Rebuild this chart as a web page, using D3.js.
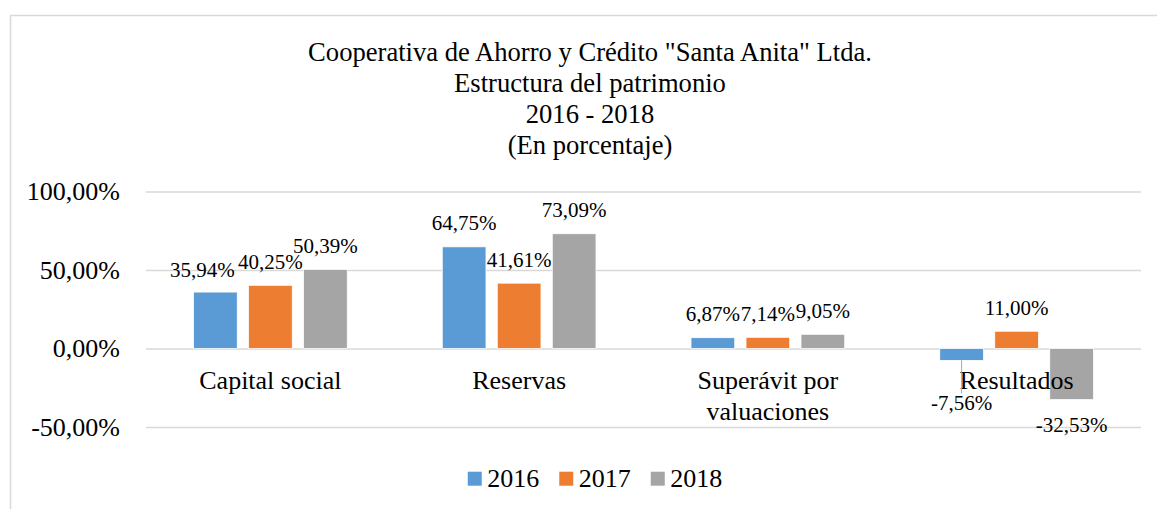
<!DOCTYPE html>
<html>
<head>
<meta charset="utf-8">
<script src="https://cdn.jsdelivr.net/npm/d3@7"></script>
<style>
  body { margin: 0; background: #fff; }
  text { font-family: "Liberation Serif", "Times New Roman", serif; fill: #000; }
</style>
</head>
<body>
<svg id="chart" width="1157" height="509"></svg>
<script>
var titleLines = ['Cooperativa de Ahorro y Crédito "Santa Anita" Ltda.', 'Estructura del patrimonio', '2016 - 2018', '(En porcentaje)'];
var categories = [['Capital social'], ['Reservas'], ['Superávit por', 'valuaciones'], ['Resultados']];
var years = ['2016', '2017', '2018'];
var values2016 = [35.94, 64.75, 6.87, -7.56];
var values2017 = [40.25, 41.61, 7.14, 11.00];
var values2018 = [50.39, 73.09, 9.05, -32.53];
var yTicks = [-50, 0, 50, 100];

var colors = ['#5B9BD5', '#ED7D31', '#A5A5A5'];
var series = [values2016, values2017, values2018];

// labels that were dragged by hand in the original
var labelNudge = {
  '0-0': { dx: -13, dy: 1 },
  '0-3': { dx: 0, dy: 18, leader: true }
};

var svg = d3.select('#chart');
var plot = { left: 146, right: 1141, top: 191.5, bottom: 427 };

var loc = d3.formatLocale({ decimal: ',', thousands: '.', grouping: [3], currency: ['', ''], minus: '-' });
var fmt = loc.format(',.2f');
var pct = function(v) { return fmt(v) + '%'; };

// chart border
svg.append('rect')
  .attr('x', 10.5).attr('y', 15.5)
  .attr('width', 1200).attr('height', 600)
  .attr('fill', 'none').attr('stroke', '#d9d9d9').attr('stroke-width', 1.5);

// title
svg.append('g').selectAll('text')
  .data(titleLines)
  .enter().append('text')
  .attr('x', 590)
  .attr('y', function(d, i) { return 61 + i * 31; })
  .attr('text-anchor', 'middle')
  .style('font-size', '26.6px')
  .text(function(d) { return d; });

var x = d3.scaleBand()
  .domain(d3.range(categories.length))
  .range([plot.left, plot.right]);
var y = d3.scaleLinear()
  .domain([-50, 100])
  .range([plot.bottom, plot.top]);

var bw = x.bandwidth();
var barW = bw * 0.1757;
var step = bw * 0.2211;
var barX = function(ci, si) { return x(ci) + bw / 2 + (si - 1) * step; };

// gridlines
svg.append('g')
  .attr('transform', 'translate(' + plot.left + ',0)')
  .call(d3.axisLeft(y).tickValues(yTicks).tickSize(-(plot.right - plot.left)).tickFormat(''))
  .call(function(g) { g.select('.domain').remove(); })
  .selectAll('line').attr('stroke', '#d9d9d9').attr('stroke-width', 1.5);

// y axis labels
svg.append('g')
  .attr('transform', 'translate(' + plot.left + ',0)')
  .call(d3.axisLeft(y).tickValues(yTicks).tickSize(0).tickPadding(26).tickFormat(pct))
  .call(function(g) {
    g.select('.domain').remove();
    g.selectAll('text').attr('fill', '#000').style('font-size', '26px')
      .style('font-family', '"Liberation Serif", "Times New Roman", serif');
  });

// bars
var flat = [];
series.forEach(function(vals, si) {
  vals.forEach(function(v, ci) { flat.push({ si: si, ci: ci, v: v }); });
});

svg.append('g').selectAll('rect')
  .data(flat)
  .enter().append('rect')
  .attr('x', function(d) { return barX(d.ci, d.si) - barW / 2; })
  .attr('y', function(d) { return y(Math.max(0, d.v)); })
  .attr('width', barW)
  .attr('height', function(d) { return Math.abs(y(d.v) - y(0)); })
  .attr('fill', function(d) { return colors[d.si]; })
  .attr('stroke', '#fff').attr('stroke-width', 0.75);

// category labels
var catG = svg.append('g').selectAll('text')
  .data(categories)
  .enter().append('text')
  .attr('text-anchor', 'middle')
  .style('font-size', '26px');
catG.selectAll('tspan')
  .data(function(d, i) { return d.map(function(t) { return { t: t, ci: i }; }); })
  .enter().append('tspan')
  .attr('x', function(d) { return x(d.ci) + bw / 2; })
  .attr('y', function(d, j) { return y(0) + 40.5 + j * 30.5; })
  .text(function(d) { return d.t; });

// leader lines + data labels
var lab = svg.append('g');
flat.forEach(function(d) {
  var n = labelNudge[d.si + '-' + d.ci] || { dx: 0, dy: 0 };
  var cx = barX(d.ci, d.si) + n.dx;
  var by = d.v >= 0 ? y(d.v) - 16.5 : y(d.v) + 32;
  by += n.dy;
  if (n.leader) {
    lab.append('line')
      .attr('x1', barX(d.ci, d.si)).attr('x2', barX(d.ci, d.si))
      .attr('y1', y(d.v)).attr('y2', by - 17)
      .attr('stroke', '#a6a6a6').attr('stroke-width', 1);
  }
  lab.append('text')
    .attr('x', cx).attr('y', by)
    .attr('text-anchor', 'middle')
    .style('font-size', '21px')
    .text(pct(d.v));
});

// legend
var legend = svg.append('g');
var items = legend.selectAll('g')
  .data(years)
  .enter().append('g');
items.append('rect')
  .attr('width', 14).attr('height', 14)
  .attr('y', 471.7)
  .attr('fill', function(d, i) { return colors[i]; });
items.append('text')
  .attr('x', 19.5).attr('y', 486.7)
  .style('font-size', '26px')
  .text(function(d) { return d; });
var pos = 0;
items.each(function() {
  var w = this.getBBox().width;
  d3.select(this).attr('data-x', pos).attr('data-w', w);
  pos += w + 20;
});
var total = pos - 20;
var startX = 595 - total / 2;
items.attr('transform', function() {
  return 'translate(' + (startX + +d3.select(this).attr('data-x')) + ',0)';
});
</script>
</body>
</html>
